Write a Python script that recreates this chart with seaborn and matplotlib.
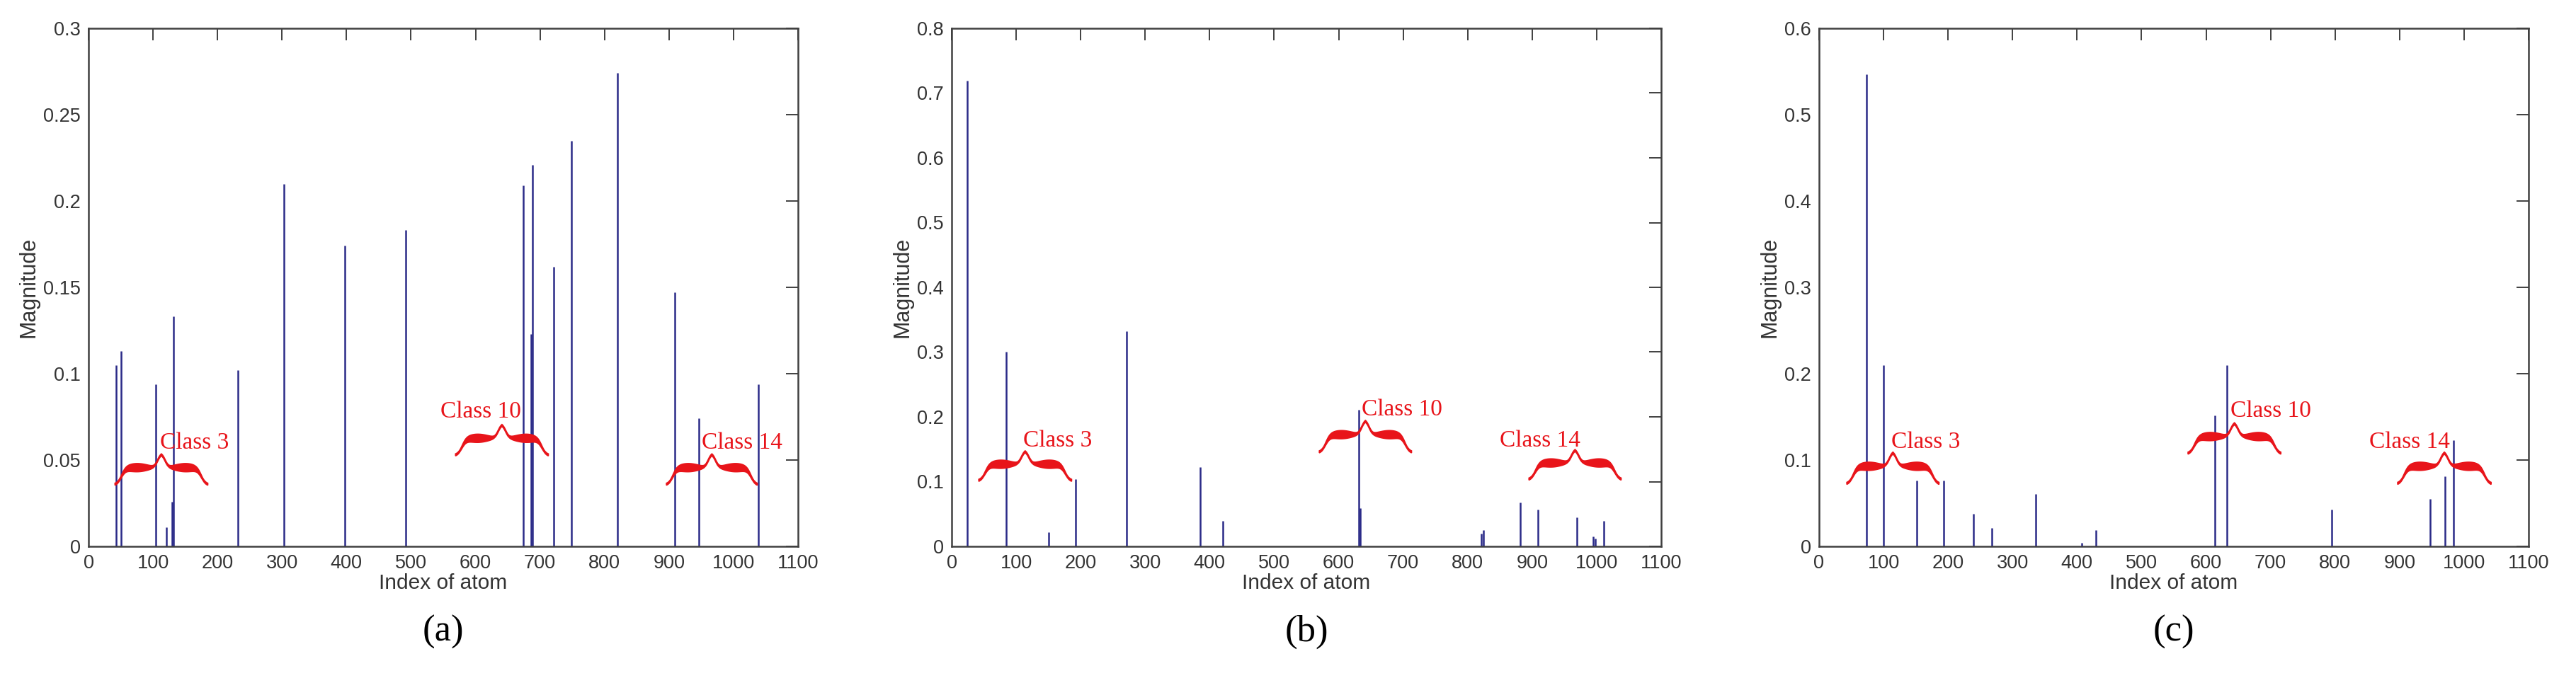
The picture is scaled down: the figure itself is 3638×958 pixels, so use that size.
import numpy as np
import matplotlib.pyplot as plt
import seaborn as sns
from matplotlib.ticker import FuncFormatter

sns.set_style('white')
plt.rcParams['font.family'] = ['Liberation Sans', 'DejaVu Sans']

STEM_COLOR = '#2b2b88'
RED = '#e8141a'

# panel (a)
idx_a = [43, 51, 104, 121, 130, 132, 232, 303, 397, 492, 674, 686, 688, 721, 749, 820, 909, 946, 1039]
mag_a = [0.105, 0.113, 0.094, 0.011, 0.026, 0.133, 0.102, 0.210, 0.174, 0.183, 0.209, 0.123, 0.221,
         0.162, 0.235, 0.274, 0.147, 0.074, 0.094]

# panel (b)
idx_b = [24, 84, 150, 192, 271, 385, 420, 631, 633, 821, 824, 882, 909, 969, 995, 998, 1011]
mag_b = [0.719, 0.301, 0.022, 0.104, 0.332, 0.122, 0.039, 0.211, 0.059, 0.020, 0.025, 0.068, 0.057,
         0.045, 0.015, 0.012, 0.039]

# panel (c)
idx_c = [74, 100, 151, 193, 239, 268, 336, 407, 429, 614, 632, 795, 947, 971, 984]
mag_c = [0.547, 0.210, 0.076, 0.076, 0.038, 0.021, 0.061, 0.004, 0.019, 0.152, 0.210, 0.043, 0.055,
         0.081, 0.123]

panel_tags = ['(a)', '(b)', '(c)']
y_max = [0.3, 0.8, 0.6]
y_step = [0.05, 0.1, 0.1]

class_names = ['Class 3', 'Class 10', 'Class 14']
# brace spans: (x start, x end, y at ends, y at tip)
braces_a = [(41, 185, 0.036, 0.053), (569, 713, 0.053, 0.070), (896, 1037, 0.036, 0.053)]
braces_b = [(42, 186, 0.102, 0.146), (570, 713, 0.146, 0.193), (895, 1038, 0.104, 0.148)]
braces_c = [(43, 186, 0.073, 0.108), (572, 716, 0.108, 0.142), (897, 1042, 0.073, 0.108)]
# label centres
labels_a = [(164, 0.060), (608, 0.078), (1013, 0.060)]
labels_b = [(164, 0.163), (698, 0.211), (912, 0.163)]
labels_c = [(165, 0.121), (700, 0.157), (916, 0.121)]


def brace(ax, x0, x1, y_end, y_tip, ymax):
    # hand-drawn looking curly brace, tip pointing up, thicker in each half
    t = np.linspace(0, 1, 300)
    sig = lambda u, c, k: 1 / (1 + np.exp(-k * (u - c)))
    f = 0.55 * sig(t, 0.14, 20) + 0.45 * sig(t, 0.92, 26)
    f = (f - f[0]) / (f[-1] - f[0])
    w = ymax * (0.004 + 0.012 * np.sin(np.pi * np.clip((t - 0.1) / 0.75, 0, 1)) ** 1.2)
    xm = (x0 + x1) / 2
    xl = x0 + t * (xm - x0)
    yl = y_end + f * (y_tip - y_end)
    xs = np.concatenate([xl, 2 * xm - xl[::-1]])
    ys = np.concatenate([yl, yl[::-1]])
    ws = np.concatenate([w, w[::-1]])
    ax.fill(np.concatenate([xs, xs[::-1]]),
            np.concatenate([ys + ws / 2, (ys - ws / 2)[::-1]]),
            color=RED, lw=1.2, ec=RED, zorder=4)


fig = plt.figure(figsize=(36.38, 9.58), dpi=100)
lefts = [125 / 3638, 1344 / 3638, 2569 / 3638]
width = 1002 / 3638
bottom = 1 - 772 / 958
height = 732 / 958

series = [(idx_a, mag_a, braces_a, labels_a),
          (idx_b, mag_b, braces_b, labels_b),
          (idx_c, mag_c, braces_c, labels_c)]

for i, (idx, mag, brs, labs) in enumerate(series):
    ax = fig.add_axes([lefts[i], bottom, width, height])
    ax.vlines(idx, 0, mag, color=STEM_COLOR, lw=1.8, zorder=2)
    ax.set_xlim(0, 1100)
    ax.set_ylim(0, y_max[i])
    ax.set_xticks(np.arange(0, 1101, 100))
    ax.set_yticks(np.arange(0, y_max[i] + 1e-9, y_step[i]))
    ax.yaxis.set_major_formatter(FuncFormatter(lambda v, p: f'{v:g}'))
    ax.tick_params(direction='in', length=12, width=1.4, colors='#404040',
                   labelsize=19.5, labelcolor='#333333', top=True, right=True, pad=8)
    for sp in ax.spines.values():
        sp.set_color('#404040')
        sp.set_linewidth(1.8)
        sp.set_visible(True)
    ax.set_xlabel('Index of atom', fontsize=21.5, color='#333333', labelpad=1)
    ax.set_ylabel('Magnitude', fontsize=22, color='#333333', labelpad=4)

    for (x0, x1, ye, yt) in brs:
        brace(ax, x0, x1, ye, yt, y_max[i])
    for name, (tx, ty) in zip(class_names, labs):
        ax.text(tx, ty, name, color=RED, fontsize=24, ha='center', va='center',
                family=['Liberation Serif', 'DejaVu Serif'], zorder=5)

    fig.text(lefts[i] + width / 2, 1 - 893 / 958, panel_tags[i], ha='center', va='center',
             fontsize=38, family=['Liberation Serif', 'DejaVu Serif'], color='black')

fig.savefig('out.png', dpi=100)
